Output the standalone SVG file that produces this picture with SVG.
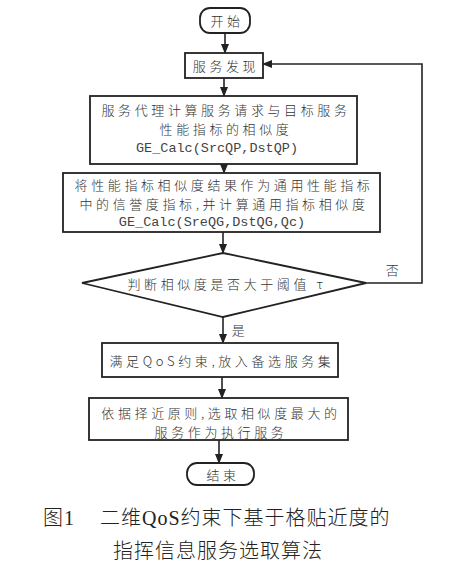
<svg xmlns="http://www.w3.org/2000/svg" width="449" height="570" viewBox="0 0 449 570">
<defs>
<marker id="ah" markerWidth="10" markerHeight="8" refX="9" refY="4" orient="auto" markerUnits="userSpaceOnUse">
<path d="M0,0 L10,4 L0,8 Z" fill="#222"/>
</marker>
<style>
.b{fill:#fff;stroke:#222;stroke-width:1.8}
.t{font-family:"Noto Sans CJK SC","Noto Sans",sans-serif;font-size:13px;font-weight:300;fill:#333;text-anchor:middle;dominant-baseline:central;letter-spacing:3.6px}
.m{font-family:"Liberation Mono","Noto Sans CJK SC",monospace;font-size:13.5px;fill:#444;text-anchor:middle;dominant-baseline:central}
.c{fill:none;stroke:#222;stroke-width:1.6;marker-end:url(#ah)}
.cap{font-family:"Liberation Serif","Noto Sans CJK SC",serif;font-size:20px;font-weight:300;fill:#222;dominant-baseline:central;letter-spacing:1px}
</style>
</defs>
<rect width="449" height="570" fill="#fff"/>
<g id="connectors">
<line class="c" x1="225" y1="33" x2="225" y2="53"/>
<line class="c" x1="224" y1="78" x2="224" y2="96"/>
<line class="c" x1="224" y1="164" x2="224" y2="173"/>
<line class="c" x1="223" y1="232" x2="223" y2="253"/>
<line class="c" x1="223" y1="317" x2="223" y2="343"/>
<line class="c" x1="222" y1="377" x2="222" y2="398"/>
<line class="c" x1="219" y1="440" x2="219" y2="463"/>
<polyline class="c" points="366,283 422,283 422,64 263,64"/>
<text class="t" x="394" y="269">否</text>
<text class="t" x="240" y="329">是</text>
</g>
<g id="start">
<rect class="b" x="200" y="8" width="50" height="25" rx="10"/>
<text class="t" x="227" y="20.5">开始</text>
</g>
<g id="discover">
<rect class="b" x="185" y="53" width="78" height="25"/>
<text class="t" x="226" y="65.5">服务发现</text>
</g>
<g id="calc1">
<rect class="b" x="90" y="96" width="267" height="68"/>
<text class="t" x="226" y="109">服务代理计算服务请求与目标服务</text>
<text class="t" x="226" y="128">性能指标的相似度</text>
<text class="m" x="217" y="148">GE_Calc(SrcQP,DstQP)</text>
</g>
<g id="calc2">
<rect class="b" x="63" y="173" width="317" height="59"/>
<text class="t" x="224" y="184">将性能指标相似度结果作为通用性能指标</text>
<text class="t" x="224" y="203">中的信誉度指标,并计算通用指标相似度</text>
<text class="m" x="212" y="222">GE_Calc(SreQG,DstQG,Qc)</text>
</g>
<g id="decision">
<polygon class="b" points="223,253 366,283 223,317 82,283"/>
<text class="t" x="227" y="283">判断相似度是否大于阈值 τ</text>
</g>
<g id="accept">
<rect class="b" x="102" y="343" width="236" height="34"/>
<text class="t" x="222" y="360">满足QoS约束,放入备选服务集</text>
</g>
<g id="select">
<rect class="b" x="89" y="398" width="259" height="42"/>
<text class="t" x="221" y="412">依据择近原则,选取相似度最大的</text>
<text class="t" x="221" y="431">服务作为执行服务</text>
</g>
<g id="end">
<rect class="b" x="187" y="463" width="67" height="22" rx="10"/>
<text class="t" x="223" y="474">结束</text>
</g>
<g id="caption">
<text class="cap" x="43" y="518">图1</text>
<text class="cap" x="100" y="518">二维QoS约束下基于格贴近度的</text>
<text class="cap" x="113" y="551">指挥信息服务选取算法</text>
</g>
</svg>
